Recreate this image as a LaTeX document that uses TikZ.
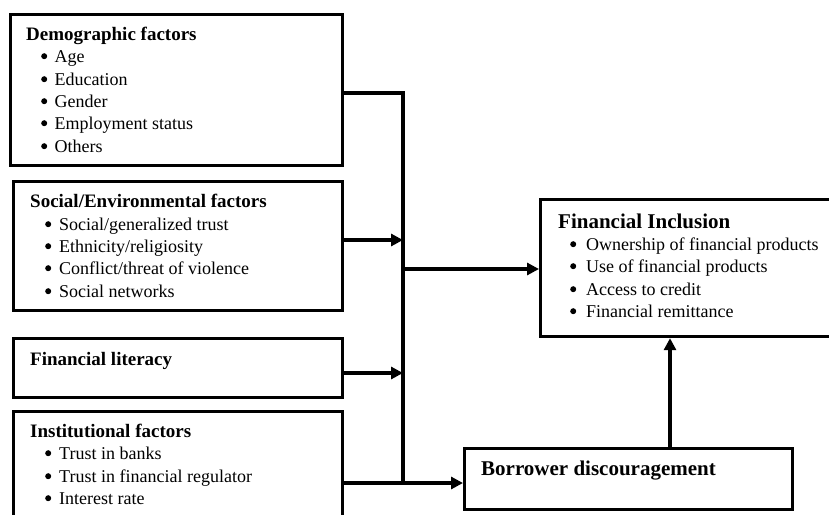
\documentclass[tikz,border=0pt]{standalone}
\usepackage{fontspec}
\setmainfont{Liberation Serif}
\usetikzlibrary{arrows.meta}
\newcommand\mybul{\raisebox{2.8pt}{\tikz[x=1pt,y=1pt]\fill (0,0) circle (3pt);}}
\begin{document}
\begin{tikzpicture}[x=1pt,y=-1pt,
 box/.style={draw,line width=3.2pt,anchor=north west,inner sep=0pt},
 conn/.style={line width=3.2pt},
 arr/.style={conn,-{Triangle[length=12pt,width=12pt]}},
 hd/.style={anchor=base west,inner sep=0pt,font=\fontsize{19}{22}\selectfont\bfseries},
 hdr/.style={anchor=base west,inner sep=0pt,font=\fontsize{21}{24}\selectfont\bfseries},
 it/.style={anchor=base west,inner sep=0pt,font=\fontsize{18}{22}\selectfont}]
\useasboundingbox (0,0) rectangle (829,514);
% boxes
\node[box,minimum width=332pt,minimum height=151pt] (dem) at (9,13) {};
\node[box,minimum width=329pt,minimum height=129pt] (soc) at (12,180) {};
\node[box,minimum width=329pt,minimum height=59pt] (lit) at (12,337) {};
\node[box,minimum width=329pt,minimum height=120pt] (inst) at (12,410) {};
\node[box,minimum width=292pt,minimum height=137pt] (fi) at (539,198) {};
\node[box,minimum width=328pt,minimum height=61pt] (bd) at (463,447) {};
% texts: demographic
\node[hd] (demh) at (26,40) {Demographic factors};
\node[it] (dem1) at (41,62) {\mybul\hspace{7.5pt}Age};
\node[it] (dem2) at (41,85) {\mybul\hspace{7.5pt}Education};
\node[it] (dem3) at (41,107) {\mybul\hspace{7.5pt}Gender};
\node[it] (dem4) at (41,129) {\mybul\hspace{7.5pt}Employment status};
\node[it] (dem5) at (41,152) {\mybul\hspace{7.5pt}Others};
% social
\node[hd] (soch) at (30,207) {Social/Environmental factors};
\node[it] (soc1) at (45,230) {\mybul\hspace{8pt}Social/generalized trust};
\node[it] (soc2) at (45,252) {\mybul\hspace{8pt}Ethnicity/religiosity};
\node[it] (soc3) at (45,274) {\mybul\hspace{8pt}Conflict/threat of violence};
\node[it] (soc4) at (45,297) {\mybul\hspace{8pt}Social networks};
% literacy
\node[hd] (lith) at (30,365) {Financial literacy};
% institutional
\node[hd] (insth) at (30,437) {Institutional factors};
\node[it] (inst1) at (45,459) {\mybul\hspace{8pt}Trust in banks};
\node[it] (inst2) at (45,482) {\mybul\hspace{8pt}Trust in financial regulator};
\node[it] (inst3) at (45,504) {\mybul\hspace{8pt}Interest rate};
% financial inclusion
\node[hdr] (fih) at (558,228) {Financial Inclusion};
\node[it] (fi1) at (570,250) {\mybul\hspace{10pt}Ownership of financial products};
\node[it] (fi2) at (570,272) {\mybul\hspace{10pt}Use of financial products};
\node[it] (fi3) at (570,295) {\mybul\hspace{10pt}Access to credit};
\node[it] (fi4) at (570,317) {\mybul\hspace{10pt}Financial remittance};
% borrower
\node[hdr] (bdh) at (481,475) {Borrower discouragement};
% trunk coordinates
\coordinate (tTop) at (403,93);
\coordinate (tSoc) at (403,240);
\coordinate (tFI) at (403,269);
\coordinate (tLit) at (403,373);
\coordinate (tBot) at (403,483);
\coordinate (upx) at (670,0);
% connectors
\draw[conn] (dem.east |- tTop) -- (tTop) -- (tBot);
\draw[arr] (soc.east |- tSoc) -- (tSoc);
\draw[arr] (lit.east |- tLit) -- (tLit);
\draw[arr] (tFI) -- (fi.west |- tFI);
\draw[arr] (inst.east |- tBot) -- (bd.west |- tBot);
\draw[arr] (bd.north -| upx) -- (fi.south -| upx);
\end{tikzpicture}
\end{document}
